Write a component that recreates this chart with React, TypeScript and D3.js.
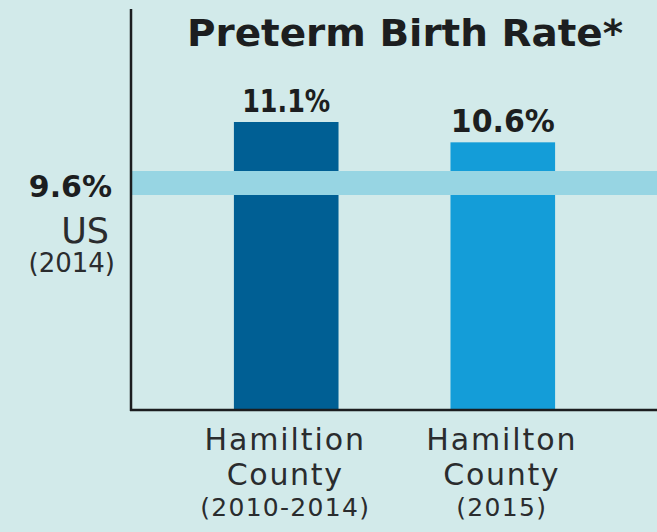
import React from "react";
import * as d3 from "d3";

const categories = ["Hamiltion County (2010-2014)", "Hamilton County (2015)"];
const labelLines = [
  ["Hamiltion", "County", "(2010-2014)"],
  ["Hamilton", "County", "(2015)"],
];
const values = [11.1, 10.6];
const valueLabels = ["11.1%", "10.6%"];
const usValue = 9.6;
const usLabels = ["9.6%", "US", "(2014)"];
const title = "Preterm Birth Rate*";

const W = 657;
const H = 532;
const FONT = "'DejaVu Sans', 'Open Sans', sans-serif";
const BG = "#d2eaea";
const TEXT_BOLD = "#1c1e20";
const TEXT = "#2a2c2e";
const barColors = ["#005f94", "#149dd8"];
const bandColor = "#97d5e3";
const valueLabelWidths = [88, 104];

export default function App() {
  const axisX = 131;
  const baseY = 410;
  const x = d3
    .scaleBand<string>()
    .domain(categories)
    .range([175, 614])
    .paddingInner(0.517)
    .paddingOuter(0.272);
  const y = d3.scaleLinear().domain([usValue, d3.max(values) as number]).range([183, 122]);
  const bandH = 24;
  const cx = (c: string) => (x(c) as number) + x.bandwidth() / 2;
  const lineY = [450, 485, 516];
  const lineSize = [30, 30, 25];
  const lineSpacing = [1.9, 1.7, 1.3];

  return (
    <div style={{ position: "absolute", left: 0, top: 0, width: W, height: H }}>
      <svg width={W} height={H} style={{ display: "block" }}>
        <rect x={0} y={0} width={W} height={H} fill={BG} />
        {/* bars */}
        {categories.map((c, i) => (
          <rect
            key={c}
            x={x(c)}
            y={y(values[i])}
            width={x.bandwidth()}
            height={baseY - y(values[i])}
            fill={barColors[i]}
          />
        ))}
        {/* US reference band */}
        <rect x={axisX} y={y(usValue) - bandH / 2} width={W - axisX} height={bandH} fill={bandColor} />
        {/* axes */}
        <line x1={axisX} x2={axisX} y1={9} y2={baseY + 1} stroke="#1b1d1f" strokeWidth={2.5} />
        <line x1={axisX - 1} x2={W} y1={baseY} y2={baseY} stroke="#1b1d1f" strokeWidth={2.5} />
        {/* title */}
        <text
          x={405}
          y={46}
          textAnchor="middle"
          fontFamily={FONT}
          fontWeight={700}
          fontSize={38}
          fill={TEXT_BOLD}
          textLength={436}
          lengthAdjust="spacingAndGlyphs"
        >
          {title}
        </text>
        {/* value labels */}
        {categories.map((c, i) => (
          <text
            key={c + "v"}
            x={cx(c)}
            y={y(values[i]) - 10}
            textAnchor="middle"
            fontFamily={FONT}
            fontWeight={700}
            fontSize={32}
            fill={TEXT_BOLD}
            textLength={valueLabelWidths[i]}
            lengthAdjust="spacingAndGlyphs"
          >
            {valueLabels[i]}
          </text>
        ))}
        {/* US labels */}
        <text textAnchor="end" fontFamily={FONT} fill={TEXT}>
          <tspan x={112} y={197} fontWeight={700} fontSize={30} fill={TEXT_BOLD}>
            {usLabels[0]}
          </tspan>
          <tspan x={109} y={243} fontWeight={400} fontSize={35}>
            {usLabels[1]}
          </tspan>
          <tspan x={115} y={272} fontWeight={400} fontSize={26}>
            {usLabels[2]}
          </tspan>
        </text>
        {/* category labels */}
        {categories.map((c, i) => (
          <text
            key={c + "l"}
            textAnchor="middle"
            fontFamily={FONT}
            fontWeight={400}
            fill={TEXT}
          >
            {labelLines[i].map((ln, j) => (
              <tspan
                key={j}
                x={cx(c) - 1}
                y={lineY[j]}
                fontSize={lineSize[j]}
                letterSpacing={lineSpacing[j]}
              >
                {ln}
              </tspan>
            ))}
          </text>
        ))}
      </svg>
    </div>
  );
}
